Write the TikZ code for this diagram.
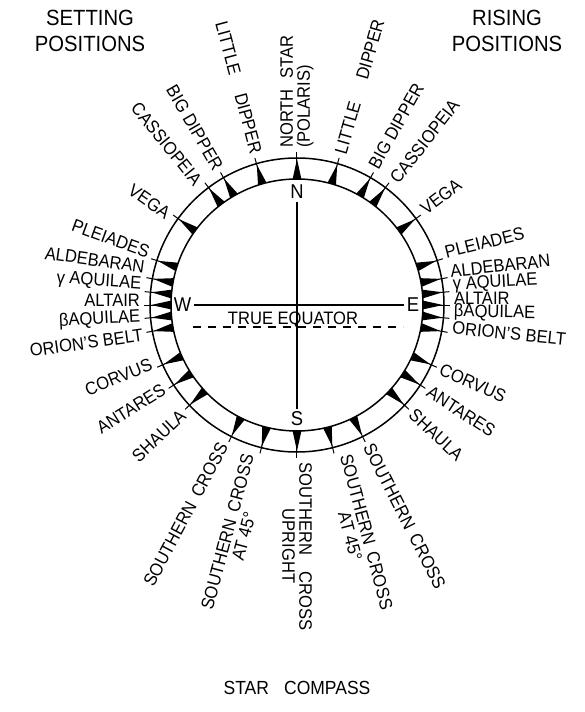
\documentclass[tikz,border=0pt]{standalone}
\usepackage{fontspec}
\setmainfont{Liberation Sans}[FakeStretch=0.92]
\usepackage{tikz}
\usetikzlibrary{positioning}
\newcommand{\gap}{\hspace{0.45em}}

\begin{document}
\begin{tikzpicture}[x=1pt, y=1pt, every node/.style={inner sep=0pt, align=center},
  lbl/.style={font=\fontsize{18}{17}\selectfont},
  cpt/.style={font=\fontsize{20}{20}\selectfont, inner sep=3pt},
  head/.style={font=\fontsize{22}{26}\selectfont}]
\useasboundingbox (-297,-407) rectangle (288,305);
\draw[line width=1.5pt] (0,0) circle (126);
\draw[line width=1.5pt] (0,0) circle (147);
\foreach \a in {90,74,60,53,36,17.6,10.3,5,0,-5,-10.3,-24,-33,-43,-63.5,-76,-90,
  106,120,127,144,162.4,169.7,175,180,185,190.3,204,213,223,243.5,256} {
  \fill (\a-2:126) -- (\a:146) -- (\a+2:126) -- cycle;
  \draw[line width=1pt] (\a:126) -- (\a:153);
}
\node[cpt] (n) at (0,113) {N};
\node[cpt] (s) at (0,-114) {S};
\node[cpt] (w) at (-114.5,0) {W};
\node[cpt] (e) at (116,0) {E};
\draw[line width=1.2pt] (n) -- (s);
\draw[line width=1.2pt] (w) -- (e);
\coordinate (eqw) at (-104,-22);
\coordinate (eqe) at (106,-22);
\draw[line width=1.2pt, dash pattern=on 8pt off 7pt] (eqw) -- (eqe);
\node[lbl, anchor=base] (eq) at (-4,-19) {TRUE EQUATOR};

\node[lbl, rotate=90, anchor=west, align=left] (north) at (90:157) {NORTH\hspace{0.6em}STAR\\(POLARIS)};
\node[lbl, rotate=74, anchor=west] (ldR) at (74:157) {LITTLE\hspace{1.3em}DIPPER};
\node[lbl, rotate=61, anchor=west] (bdR) at (61:157) {BIG DIPPER};
\node[lbl, rotate=52, anchor=west] (casR) at (52:157) {CASSIOPEIA};
\node[lbl, rotate=37, anchor=west] (vegR) at (37:157) {VEGA};
\node[lbl, rotate=14, anchor=west] (pleR) at (19.5:157) {PLEIADES};
\node[lbl, rotate=6, anchor=west] (aldR) at (12.5:157) {ALDEBARAN};
\node[lbl, rotate=3, anchor=west] (gaqR) at (7.2:157) {γ AQUILAE};
\node[lbl, rotate=0, anchor=west] (altR) at (2.5:157) {ALTAIR};
\node[lbl, rotate=-1, anchor=west] (baqR) at (-2.6:157) {βAQUILAE};
\node[lbl, rotate=-6, anchor=west] (oriR) at (-8.3:157) {ORION'S BELT};
\node[lbl, rotate=-24, anchor=west] (corR) at (-24:157) {CORVUS};
\node[lbl, rotate=-33, anchor=west] (antR) at (-33:157) {ANTARES};
\node[lbl, rotate=-43, anchor=west] (shaR) at (-43:157) {SHAULA};
\node[lbl, rotate=-63, anchor=west] (scR) at (-63:157) {SOUTHERN\gap CROSS};
\node[lbl, rotate=-75, anchor=west] (sc45R) at (-75:157) {SOUTHERN\gap CROSS\\AT 45°};
\node[lbl, rotate=-90, anchor=west] (south) at (-90:157) {SOUTHERN\hspace{0.9em}CROSS\\UPRIGHT};

\node[lbl, rotate=-75, anchor=east] (ldL) at (105:157) {LITTLE\hspace{1.1em}DIPPER};
\node[lbl, rotate=-60, anchor=east] (bdL) at (120:157) {BIG DIPPER};
\node[lbl, rotate=-51, anchor=east] (casL) at (129:157) {CASSIOPEIA};
\node[lbl, rotate=-35, anchor=east] (vegL) at (145:157) {VEGA};
\node[lbl, rotate=-20, anchor=east] (pleL) at (160.5:157) {PLEIADES};
\node[lbl, rotate=-8, anchor=east] (aldL) at (166:157) {ALDEBARAN};
\node[lbl, rotate=-4, anchor=east] (gaqL) at (172.5:157) {γ AQUILAE};
\node[lbl, rotate=0, anchor=east] (altL) at (178.3:157) {ALTAIR};
\node[lbl, rotate=3, anchor=east] (baqL) at (184.5:157) {βAQUILAE};
\node[lbl, rotate=8, anchor=east] (oriL) at (191:157) {ORION'S BELT};
\node[lbl, rotate=22, anchor=east] (corL) at (202:157) {CORVUS};
\node[lbl, rotate=32, anchor=east] (antL) at (212:157) {ANTARES};
\node[lbl, rotate=43.5, anchor=east] (shaL) at (223.5:157) {SHAULA};
\node[lbl, rotate=62, anchor=east] (scL) at (242:157) {SOUTHERN\gap CROSS};
\node[lbl, rotate=75, anchor=east] (sc45L) at (255:157) {SOUTHERN\gap CROSS\\AT 45°};

\node[head] (set) at (-207,274) {SETTING\\POSITIONS};
\node[head] (ris) at (210,274) {RISING\\POSITIONS};
\node[font=\fontsize{19}{19}\selectfont] (title) at (0,-383) {STAR\hspace{0.8em}COMPASS};
\end{tikzpicture}
\end{document}
